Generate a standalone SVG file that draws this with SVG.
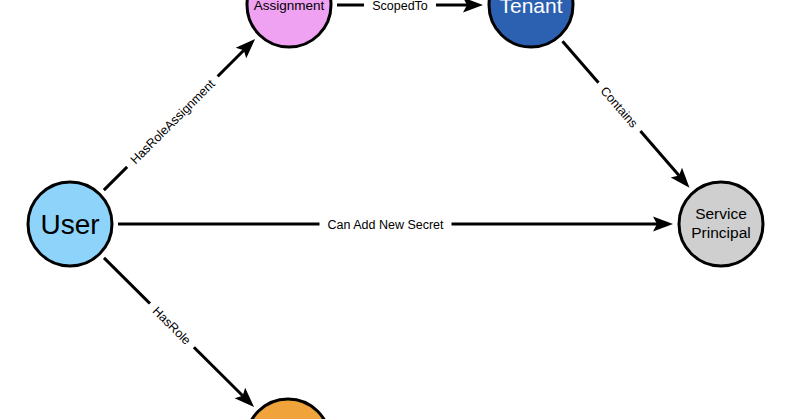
<svg xmlns="http://www.w3.org/2000/svg" width="800" height="419" viewBox="0 0 800 419">
<style>
.node{stroke:#000;stroke-width:3}
.edge{stroke:#000;stroke-width:3;fill:none;marker-end:url(#arrow)}
text{font-family:"Liberation Sans",Arial,Helvetica,sans-serif;text-anchor:middle}
.lbl{font-size:12.5px;fill:#000}
.lblbg{fill:#fff}
</style>
<defs>
<marker id="arrow" markerUnits="userSpaceOnUse" markerWidth="30" markerHeight="30" refX="0" refY="0" orient="auto" overflow="visible" viewBox="-10 -15 30 30">
<path d="M16,0 L-4,-7.5 L0,0 L-4,7.5 Z" fill="#000"/>
</marker>
</defs>
<rect width="800" height="419" fill="#fff"/>
<g id="connectors">
<line class="edge" x1="103.9" y1="190.1" x2="243.8" y2="50.2"/>
<line class="edge" x1="337" y1="5" x2="467" y2="5"/>
<line class="edge" x1="562.5" y1="41.3" x2="679" y2="175.6"/>
<line class="edge" x1="118" y1="224" x2="657" y2="224"/>
<line class="edge" x1="104" y1="257.9" x2="242.7" y2="395.8"/>
<g transform="translate(172.4,121.6) rotate(-45)"><rect class="lblbg" x="-64" y="-7" width="128" height="14"/><text class="lbl" y="4.5">HasRoleAssignment</text></g>
<g transform="translate(400,5)"><rect class="lblbg" x="-36" y="-7" width="72" height="14"/><text class="lbl" y="4.5">ScopedTo</text></g>
<g transform="translate(619.4,106.9) rotate(49.06)"><rect class="lblbg" x="-32" y="-7" width="64" height="14"/><text class="lbl" y="4.5">Contains</text></g>
<g transform="translate(385.5,224)"><rect class="lblbg" x="-66" y="-7" width="132" height="14"/><text class="lbl" y="4.5">Can Add New Secret</text></g>
<g transform="translate(171.9,325.4) rotate(44.87)"><rect class="lblbg" x="-31" y="-7" width="62" height="14"/><text class="lbl" y="4.5">HasRole</text></g>
</g>
<g id="node-user"><circle class="node" cx="70" cy="224" r="42" fill="#8dd3fa"/><text x="70" y="234" font-size="28" fill="#000">User</text></g>
<g id="node-assignment"><circle class="node" cx="289" cy="5" r="42" fill="#eea2f1"/><text x="289" y="10" font-size="13.5" fill="#000">Assignment</text></g>
<g id="node-tenant"><circle class="node" cx="531" cy="5" r="42" fill="#2c60b0"/><text x="531" y="12.5" font-size="21" fill="#fff">Tenant</text></g>
<g id="node-sp"><circle class="node" cx="721" cy="224" r="42" fill="#cfcfcf"/><text x="721" y="219" font-size="15.5" fill="#000">Service</text><text x="721" y="238" font-size="15.5" fill="#000">Principal</text></g>
<g id="node-role"><circle class="node" cx="288" cy="441" r="42" fill="#f0a33a"/></g>
</svg>
